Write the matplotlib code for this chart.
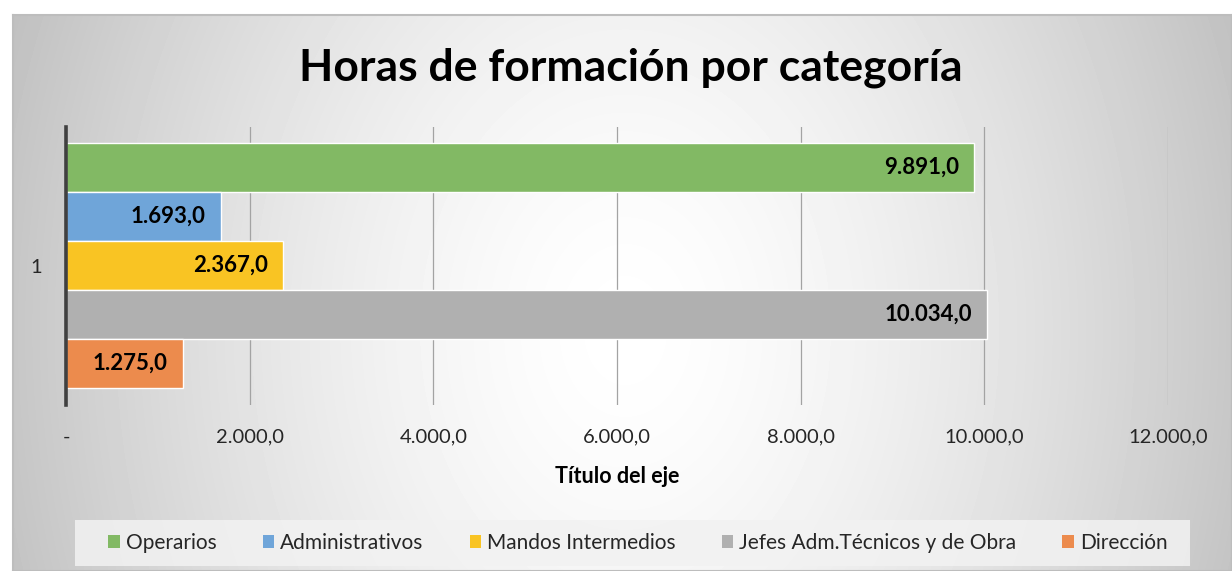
import numpy as np
import matplotlib
matplotlib.use("Agg")
import matplotlib.pyplot as plt
from matplotlib.patches import Patch, Rectangle
from matplotlib.ticker import FuncFormatter, MultipleLocator

plt.rcParams['font.family'] = ['Lato', 'DejaVu Sans']

# data
series = ["Operarios", "Administrativos", "Mandos Intermedios",
          "Jefes Adm.Técnicos y de Obra", "Dirección"]
hours = [9891.0, 1693.0, 2367.0, 10034.0, 1275.0]
colors = ["#82b964", "#6fa5d9", "#f9c423", "#b0b0b0", "#ec8b4d"]
category = ["1"]
title = "Horas de formación por categoría"
xlabel = "Título del eje"


def es_fmt(v, pos=None):
	if abs(v) < 1e-9:
		return "-"
	s = f"{v:,.1f}"
	return s.replace(",", "X").replace(".", ",").replace("X", ".")


W, H = 1232, 571
fig = plt.figure(figsize=(W / 100, H / 100), dpi=100)
fig.patch.set_facecolor("white")

# chart area with radial gradient
bx0, by0 = 13, 15
bg = fig.add_axes([bx0 / W, 0, (W - bx0) / W, (H - by0) / H], zorder=-2)
xx, yy = np.meshgrid(np.arange(bx0, W), np.arange(by0, H))
r = np.sqrt(((xx - 625) / 610.0) ** 2 + ((yy - 330) / 800.0) ** 2)
shade = 1 - 0.22 * np.clip(r, 0, 1.15) ** 1.5
bg.imshow(shade, cmap="gray", vmin=0, vmax=1, aspect="auto",
	  extent=[0, 1, 0, 1], interpolation="bilinear")
bg.set_xticks([])
bg.set_yticks([])
for sp in bg.spines.values():
	sp.set_color("#bdbdbd")
	sp.set_linewidth(1.5)

# plot area
ax = fig.add_axes([66 / W, 1 - 405 / H, (1168 - 66) / W, 278 / H])
ax.set_facecolor("none")

n = len(series)
h = 49 / 278
top = 0.5 - (143 - 127) / 278
for i, (name, val, c) in enumerate(zip(series, hours, colors)):
	y = top - (i + 0.5) * h
	ax.barh(y, val, height=h, color=c, edgecolor="white", linewidth=1.0,
		label=name, zorder=3)
	ax.text(val - 170, y, es_fmt(val), ha="right", va="center",
		fontsize=16, fontweight="bold", color="black", zorder=4)

ax.set_xlim(0, 12000)
ax.set_ylim(-0.5, 0.5)
ax.xaxis.set_major_locator(MultipleLocator(2000))
ax.xaxis.set_major_formatter(FuncFormatter(es_fmt))
ax.set_yticks([0])
ax.set_yticklabels(category)
ax.grid(axis="x", color="#a3a3a3", linewidth=0.9, zorder=0)
ax.set_axisbelow(True)
for s in ["top", "right", "bottom"]:
	ax.spines[s].set_visible(False)
ax.spines["left"].set_color("#404040")
ax.spines["left"].set_linewidth(2.6)
ax.spines["left"].set_zorder(5)
ax.tick_params(axis="x", length=0, pad=17, labelsize=14.5, labelcolor="#262626")
ax.tick_params(axis="y", length=0, pad=17, labelsize=14.5, labelcolor="#262626")
ax.set_xlabel(xlabel, fontsize=15.5, fontweight="bold", labelpad=15, color="black")

fig.text(631 / W, 1 - 68 / H, title, ha="center", va="center",
	 fontsize=32, fontweight="bold", color="black")

# legend box
fig.patches.append(Rectangle((75 / W, 1 - 566 / H), (1190 - 75) / W, 46 / H,
			     transform=fig.transFigure, facecolor="#f2f2f2",
			     edgecolor="none", alpha=0.85, zorder=-1))
handles = [Patch(facecolor=c, edgecolor="none") for c in colors]
fig.legend(handles, series, loc="center", bbox_to_anchor=(638 / W, 1 - 543 / H),
	   ncol=n, frameon=False, fontsize=15, handlelength=0.55,
	   handleheight=0.6, handletextpad=0.3, columnspacing=2.2,
	   labelcolor="#262626")

fig.savefig("out.png", dpi=100)
